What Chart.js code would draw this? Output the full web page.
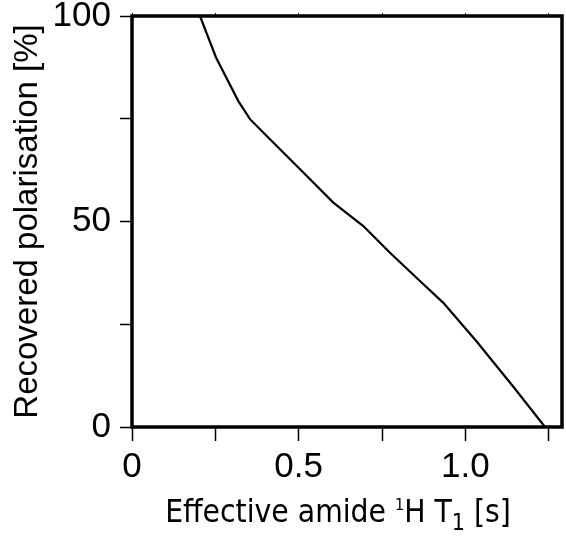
<!DOCTYPE html>
<html><head><meta charset="utf-8">
<script src="https://cdn.jsdelivr.net/npm/chart.js@4/dist/chart.umd.min.js"></script>
<style>html,body{margin:0;padding:0;background:#fff;}canvas{display:block;}</style>
</head><body>
<canvas id="c" width="566" height="536"></canvas>
<script>
// ---- data ----
const t1Values = [0.204, 0.252, 0.319, 0.354, 0.414, 0.514, 0.604, 0.694, 0.774, 0.859, 0.934, 1.034, 1.144, 1.239];
const polarisation = [100, 89.9, 79.3, 74.9, 70, 61.9, 54.6, 48.9, 42.4, 35.9, 30.2, 20.8, 9.8, 0];
const xTickValues = [0, 0.5, 1.0];
const xTickLabels = ['0', '0.5', '1.0'];
const yTickValues = [0, 50, 100];
const yTickLabels = ['0', '50', '100'];
const yTitle = 'Recovered polarisation [%]';
const xTitleParts = [
  {text: 'Effective amide ', kind: 'n'},
  {text: '1', kind: 'sup'},
  {text: 'H T', kind: 'n'},
  {text: '1', kind: 'sub'},
  {text: ' [s]', kind: 'n'}
];

const points = t1Values.map((x, i) => ({x: x, y: polarisation[i]}));
const tickFont = {family: "'Liberation Sans', Arial, sans-serif", size: 35};
function labelFor(values, labels) {
  return function (v) {
    for (let i = 0; i < values.length; i++) if (Math.abs(v - values[i]) < 1e-6) return labels[i];
    return '';
  };
}

const boxPlugin = {
  id: 'box',
  afterDraw(chart) {
    const a = chart.chartArea, ctx = chart.ctx;
    ctx.save();
    ctx.strokeStyle = '#000';
    ctx.lineWidth = 3.5;
    ctx.strokeRect(a.left, a.top, a.right - a.left, a.bottom - a.top);
    ctx.restore();
  }
};

const xTitlePlugin = {
  id: 'xTitle',
  afterDraw(chart) {
    const ctx = chart.ctx;
    const fam = "'DejaVu Sans Condensed', 'DejaVu Sans', Verdana, sans-serif";
    const spec = {n: {size: 31.5, dy: 0}, sup: {size: 16, dy: -12}, sub: {size: 23, dy: 8}};
    ctx.save();
    ctx.fillStyle = '#000';
    ctx.textBaseline = 'alphabetic';
    ctx.textAlign = 'left';
    let total = 0;
    const widths = xTitleParts.map(p => { ctx.font = spec[p.kind].size + 'px ' + fam; const w = ctx.measureText(p.text).width; total += w; return w; });
    let x = 338 - total / 2;
    const baseY = 521.5;
    xTitleParts.forEach((p, i) => {
      ctx.font = spec[p.kind].size + 'px ' + fam;
      ctx.fillText(p.text, x, baseY + spec[p.kind].dy);
      x += widths[i];
    });
    ctx.restore();
  }
};

new Chart(document.getElementById('c'), {
  type: 'line',
  data: {
    datasets: [{
      data: points,
      borderColor: '#000',
      borderWidth: 2.2,
      pointRadius: 0,
      tension: 0,
      fill: false
    }]
  },
  options: {
    responsive: false,
    devicePixelRatio: 1,
    animation: false,
    layout: {padding: {left: 0, right: 4, top: 0, bottom: 0}},
    plugins: {legend: {display: false}, tooltip: {enabled: false}},
    scales: {
      x: {
        type: 'linear', position: 'bottom', min: 0, max: 1.29,
        ticks: {stepSize: 0.25, includeBounds: false, autoSkip: false, maxRotation: 0,
                callback: labelFor(xTickValues, xTickLabels), font: tickFont, color: '#000', padding: 5},
        grid: {drawOnChartArea: false, drawTicks: true, tickLength: 14, tickWidth: 1.5, tickColor: '#000'},
        border: {display: false},
        afterFit(s) { s.height = 109; s.paddingLeft = 0; s.paddingRight = 0; }
      },
      x2: {
        type: 'linear', position: 'top', min: 0, max: 1.29,
        ticks: {stepSize: 0.25, includeBounds: false, display: false},
        grid: {drawOnChartArea: false, drawTicks: true, tickLength: 3, tickWidth: 1, tickColor: '#000'},
        border: {display: false},
        afterFit(s) { s.height = 16; s.paddingLeft = 0; s.paddingRight = 0; }
      },
      y: {
        type: 'linear', position: 'left', min: 0, max: 100,
        ticks: {stepSize: 25, includeBounds: false, autoSkip: false,
                callback: labelFor(yTickValues, yTickLabels), font: tickFont, color: '#000', padding: 9},
        grid: {drawOnChartArea: false, drawTicks: true, tickLength: 12, tickWidth: 1.5, tickColor: '#000'},
        border: {display: false},
        title: {display: true, text: yTitle, color: '#000',
                font: {family: "'Liberation Sans', Arial, sans-serif", size: 33},
                padding: {top: 8, bottom: 0}},
        afterFit(s) { s.width = 132; s.paddingTop = 0; s.paddingBottom = 0; }
      }
    }
  },
  plugins: [boxPlugin, xTitlePlugin]
});
</script>
</body></html>
